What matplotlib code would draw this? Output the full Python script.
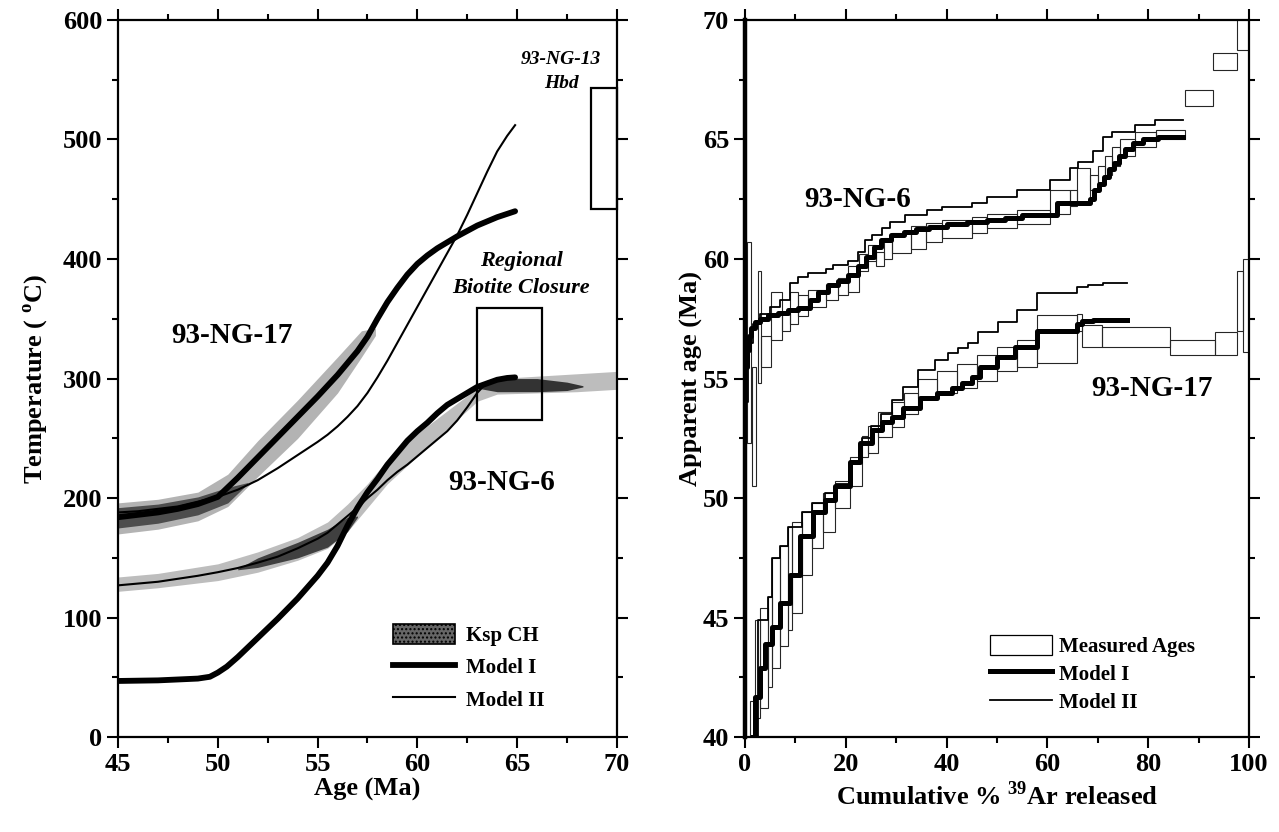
import numpy as np
import matplotlib
matplotlib.use("Agg")
import matplotlib.pyplot as plt
from matplotlib.patches import Patch, Rectangle
from matplotlib.lines import Line2D
from matplotlib.ticker import MultipleLocator

plt.rcParams['font.family'] = ['Liberation Serif', 'DejaVu Serif']
plt.rcParams['font.weight'] = 'bold'
plt.rcParams['mathtext.fontset'] = 'custom'
plt.rcParams['mathtext.rm'] = 'Liberation Serif:bold'
plt.rcParams['mathtext.bf'] = 'Liberation Serif:bold'

# ---- left panel: thermal histories (age Ma, temperature C) ----
ng17_m1_age = [45, 46, 47, 48, 49, 50, 51, 52, 53, 54, 55, 56, 56.5, 57, 57.5, 58, 58.5, 59, 59.5,
               60, 60.5, 61, 62, 63, 64, 64.9]
ng17_m1_T = [184, 186, 188, 191, 195, 201, 217, 234, 251, 268, 285, 303, 313, 323, 335, 350, 364, 376, 387,
             396, 403, 409, 419, 428, 435, 440]
ng17_m2_age = [45, 46, 47, 48, 49, 50, 51, 52, 53, 54, 55, 55.5, 56, 56.5, 57, 57.5, 58, 58.5, 59, 59.5,
               60, 60.5, 61, 61.5, 62, 62.5, 63, 63.5, 64, 64.5, 64.9]
ng17_m2_T = [188, 189, 191, 193, 197, 201, 207, 215, 225, 236, 247, 253, 260, 268, 277, 288, 301, 315, 330,
             345, 360, 375, 390, 405, 420, 437, 455, 473, 490, 503, 512]

ng6_m1_age = [45, 47, 49, 49.6, 50, 50.45, 51, 52, 53, 54, 55, 55.5, 56, 56.5, 57, 57.5, 58, 58.5, 59,
              59.5, 60, 60.5, 61, 61.5, 62, 62.5, 63, 63.5, 64, 64.5, 64.9]
ng6_m1_T = [47, 47.5, 49, 50.5, 54, 59, 67, 83, 99, 116, 135, 146, 160, 177, 192, 205, 216, 228, 238,
            248, 256, 263, 271, 278, 283, 288, 293, 296, 299, 300.5, 301]
ng6_m2_age = [45, 46, 47, 48, 49, 50, 51, 52, 53, 54, 55, 55.5, 56, 56.5, 57, 57.5, 58, 58.5, 59, 59.5,
              60, 60.5, 61, 61.5, 62, 62.5, 63, 63.5]
ng6_m2_T = [127, 128.5, 130, 132.5, 135, 138, 141.5, 146, 151, 158, 166, 171, 178, 185, 192, 200, 207, 215,
            222, 228, 235, 242, 249, 256, 265, 276, 288, 297]

# Ksp CH envelopes
ksp17_age = [45, 47, 49, 50.5, 52, 54, 56, 57.2, 57.9]
ksp17_lo = [170, 174, 181, 193, 218, 250, 288, 318, 336]
ksp17_hi = [196, 199, 205, 220, 248, 282, 318, 340, 342]
ksp17_dark_age = [45, 47, 49, 50.5, 51.5]
ksp17_dark_lo = [175, 179, 186, 196, 212]
ksp17_dark_hi = [192, 195, 201, 209, 213]

ksp6_age = [45, 47, 50, 52, 54, 55.5, 56.5, 57.5, 58.5, 60, 61.5, 63, 64, 66, 68, 70]
ksp6_lo = [122, 125, 131, 138, 148, 158, 172, 192, 212, 235, 258, 281, 287, 288, 289, 291]
ksp6_hi = [134, 137, 145, 155, 167, 180, 195, 212, 232, 254, 273, 292, 300, 302, 304, 306]
ksp6_dark_age = [51, 52, 54, 55.5, 56.5, 57]
ksp6_dark_lo = [140, 142, 150, 159, 172, 184]
ksp6_dark_hi = [141, 150, 163, 174, 184, 185]
ksp6_dark2_age = [63, 64, 66, 67.5, 68.3]
ksp6_dark2_lo = [292, 289, 289, 290, 293]
ksp6_dark2_hi = [294, 300, 300, 297, 294]

biotite_box = [63.0, 66.25, 265, 359]   # age0, age1, T0, T1
hbd_box = [68.7, 70.0, 442, 543]

# ---- right panel: age spectra (cumulative %39Ar, apparent age Ma) ----
ng6_meas_x0 = [0.3, 1.3, 2.5, 3.2, 5.2, 7.3, 9.0, 10.5, 12.5, 16.0, 18.5, 20.4, 22.7, 24.5, 26.0, 27.5,
               29.2, 33.0, 36.0, 39.0, 45.0, 48.0, 54.0, 60.5, 64.5, 65.9, 68.5, 70.0, 71.5, 72.8, 74.5,
               77.4, 81.5, 87.3, 92.9, 97.6]
ng6_meas_x1 = [1.1, 2.2, 3.2, 5.2, 7.3, 9.0, 10.5, 12.5, 16.0, 18.5, 20.4, 22.7, 24.5, 26.0, 27.5, 29.2,
               33.0, 36.0, 39.0, 45.0, 48.0, 54.0, 60.5, 64.5, 65.9, 68.5, 70.0, 71.5, 72.8, 74.5, 77.4,
               81.5, 87.3, 92.9, 97.6, 100.0]
ng6_meas_lo = [52.3, 50.5, 54.8, 55.5, 56.6, 57.0, 57.3, 57.6, 58.0, 58.3, 58.5, 58.6, 59.5, 59.9, 59.7, 60.0,
               60.25, 60.4, 60.7, 60.9, 61.1, 61.3, 61.45, 61.9, 62.2, 62.4, 62.9, 63.2, 63.5, 63.9, 64.3,
               64.7, 65.0, 66.4, 67.9, 68.75]
ng6_meas_hi = [60.7, 55.5, 59.5, 56.8, 58.6, 57.7, 58.6, 58.5, 58.7, 58.9, 59.2, 59.7, 60.2, 60.6, 60.3, 60.9,
               61.1, 61.4, 61.5, 61.63, 61.75, 61.9, 62.05, 62.9, 62.9, 63.8, 63.5, 63.9, 64.3, 64.7, 65.0,
               65.3, 65.4, 67.07, 68.6, 70.5]

ng6_s1_x = [0, 0.3, 0.7, 1.2, 2, 3, 4.5, 6.5, 8.5, 10.5, 12.8, 14.5, 16.5, 18.5, 20.5, 22.5, 24, 25.5, 27,
            29, 31.5, 34, 36.5, 40, 44, 48, 51.5, 55, 62, 68.5, 69.3, 70.3, 71.3, 72.3, 73.3, 74.3, 75.5,
            77, 79, 82, 87]
ng6_s1_age = [55.5, 56.2, 56.8, 57.1, 57.35, 57.5, 57.65, 57.75, 57.85, 57.95, 58.3, 58.6, 58.9, 59.1, 59.35,
              59.7, 60.1, 60.5, 60.8, 61.0, 61.15, 61.25, 61.35, 61.45, 61.55, 61.62, 61.7, 61.85, 62.35,
              62.5, 62.9, 63.15, 63.45, 63.75, 64.0, 64.3, 64.6, 64.85, 65.0, 65.1, 65.1]
ng6_s2_x = [0, 0.5, 1.5, 3, 5, 7, 9, 10.5, 12.5, 16, 17.5, 20.5, 22.5, 23.8, 25.2, 27.2, 28.8, 31.7, 36.1,
            39.1, 45, 48, 53.9, 60.5, 64.5, 66, 69, 71, 72.8, 77.4, 81.3, 87]
ng6_s2_age = [54.0, 56.5, 57.3, 57.7, 58.0, 58.3, 59.0, 59.25, 59.4, 59.6, 59.75, 59.9, 60.3, 60.8, 61.0,
              61.3, 61.55, 61.84, 62.05, 62.18, 62.34, 62.6, 62.9, 63.3, 63.8, 64.06, 64.5, 65.1, 65.3,
              65.6, 65.8, 65.8]

ng17_meas_x0 = [1.0, 2.0, 3.0, 4.5, 5.3, 7.0, 8.5, 9.3, 11.3, 13.3, 15.5, 17.9, 20.8, 23.2, 24.5, 26.4,
                29.2, 31.5, 34.3, 38.0, 42.0, 46.0, 50.0, 54.0, 57.9, 65.9, 66.8, 70.8, 84.4, 93.3, 97.6, 98.9]
ng17_meas_x1 = [2.0, 3.0, 4.5, 5.3, 7.0, 8.5, 9.3, 11.3, 13.3, 15.5, 17.9, 20.8, 23.2, 24.5, 26.4, 29.2,
                31.5, 34.3, 38.0, 42.0, 46.0, 50.0, 54.0, 57.9, 65.9, 66.8, 70.8, 84.4, 93.3, 97.6, 98.9, 100.0]
ng17_meas_lo = [40.0, 40.8, 41.2, 42.1, 42.9, 43.8, 44.5, 45.2, 46.8, 47.9, 48.6, 49.6, 50.5, 51.7, 51.9,
                52.55, 52.97, 53.5, 54.2, 54.4, 54.6, 54.9, 55.3, 55.5, 55.65, 57.0, 56.3, 56.33, 56.0,
                56.0, 57.0, 56.1]
ng17_meas_hi = [41.5, 44.9, 45.4, 45.85, 47.5, 48.0, 48.8, 49.0, 49.4, 49.8, 50.2, 50.7, 51.7, 52.6, 53.0,
                53.6, 54.0, 54.4, 55.0, 55.3, 55.6, 56.0, 56.3, 56.6, 57.65, 57.7, 57.24, 57.17, 56.6,
                56.96, 59.5, 60.0]

ng17_s1_x = [1.5, 2.0, 3.0, 4.0, 5.3, 7.0, 8.9, 10.9, 13.5, 15.9, 17.9, 20.8, 22.8, 25.2, 27.2, 29.2, 31.4,
             34.7, 38.1, 41.1, 43.1, 45, 46.6, 50, 53.6, 57.9, 65.9, 66.8, 69, 75.8]
ng17_s1_age = [40.0, 41.7, 42.9, 43.9, 44.6, 45.6, 46.8, 48.4, 49.4, 49.9, 50.5, 51.5, 52.3, 52.85, 53.2,
               53.4, 53.76, 54.2, 54.4, 54.6, 54.8, 55.06, 55.5, 55.9, 56.3, 57.0, 57.3, 57.4, 57.45, 57.45]
ng17_s2_x = [0.8, 2.6, 4.5, 5.3, 7.0, 8.5, 11.3, 13.3, 15.9, 18, 20.8, 23.2, 25, 27, 29.2, 31.4, 34.3,
             37.7, 40.3, 42.3, 44.2, 46.2, 50.2, 54.0, 57.9, 65.9, 68, 71, 75.8]
ng17_s2_age = [40.0, 44.9, 45.85, 47.5, 48.0, 48.8, 49.4, 49.8, 50.2, 50.6, 51.5, 52.5, 53.0, 53.5, 54.1,
               54.65, 55.36, 55.77, 56.06, 56.28, 56.5, 56.95, 57.36, 57.86, 58.57, 58.85, 58.93, 58.98, 59.0]

TICK_FS = 19
LABEL_FS = 19


def style_axes(ax):
    for side in ['top', 'bottom', 'left', 'right']:
        ax.spines[side].set_linewidth(1.6)
    ax.tick_params(which='both', direction='out', top=True, right=True, width=1.5,
                   labelsize=TICK_FS)
    ax.tick_params(which='major', length=8)
    ax.tick_params(which='minor', length=4)
    for lab in ax.get_xticklabels() + ax.get_yticklabels():
        lab.set_fontweight('bold')


fig = plt.figure(figsize=(12.79, 8.32), dpi=100)
ax1 = fig.add_axes([0.0923, 0.114, 0.390, 0.862])
ax2 = fig.add_axes([0.5825, 0.114, 0.394, 0.862])

# ---------- left panel ----------
ax1.fill_between(ksp17_age, ksp17_lo, ksp17_hi, color='0.7', lw=0)
ax1.fill_between(ksp17_dark_age, ksp17_dark_lo, ksp17_dark_hi, color='0.3', lw=0)
ax1.fill_between(ksp6_age, ksp6_lo, ksp6_hi, color='0.74', lw=0)
ax1.fill_between(ksp6_dark_age, ksp6_dark_lo, ksp6_dark_hi, color='0.25', lw=0)
ax1.fill_between(ksp6_dark2_age, ksp6_dark2_lo, ksp6_dark2_hi, color='0.2', lw=0)

ax1.plot(ng17_m1_age, ng17_m1_T, color='black', lw=4.2, solid_capstyle='round', solid_joinstyle='round')
ax1.plot(ng17_m2_age, ng17_m2_T, color='black', lw=1.5)
ax1.plot(ng6_m1_age, ng6_m1_T, color='black', lw=4.2, solid_capstyle='round', solid_joinstyle='round')
ax1.plot(ng6_m2_age, ng6_m2_T, color='black', lw=1.5)

for box in [biotite_box, hbd_box]:
    ax1.add_patch(Rectangle((box[0], box[2]), box[1] - box[0], box[3] - box[2],
                            fill=False, edgecolor='black', lw=1.6, clip_on=False))

ax1.text(50.7, 336, '93-NG-17', fontsize=21, fontweight='bold', ha='center', va='center')
ax1.text(64.2, 213, '93-NG-6', fontsize=21, fontweight='bold', ha='center', va='center')
ax1.text(65.2, 387, 'Regional\nBiotite Closure', fontsize=16, fontweight='bold', style='italic',
         ha='center', va='center', linespacing=1.45)
ax1.text(67.2, 557, '93-NG-13\nHbd', fontsize=14, fontweight='bold', style='italic',
         ha='center', va='center', linespacing=1.5)

ax1.set_xlim(45, 70)
ax1.set_ylim(0, 600)
ax1.xaxis.set_major_locator(MultipleLocator(5))
ax1.xaxis.set_minor_locator(MultipleLocator(2.5))
ax1.yaxis.set_major_locator(MultipleLocator(100))
ax1.yaxis.set_minor_locator(MultipleLocator(50))
ax1.set_xlabel('Age (Ma)', fontsize=LABEL_FS, fontweight='bold', labelpad=1)
ax1.set_ylabel(r'Temperature ( $^{\mathbf{o}}$C)', fontsize=LABEL_FS, fontweight='bold', labelpad=9)
style_axes(ax1)

h1 = [Patch(facecolor='0.4', edgecolor='black', hatch='....', lw=1.2),
      Line2D([], [], color='black', lw=4.2),
      Line2D([], [], color='black', lw=1.5)]
ax1.legend(h1, ['Ksp CH', 'Model I', 'Model II'], loc='upper left', bbox_to_anchor=(0.551, 0.158),
           frameon=False, fontsize=15, handlelength=3.0, handleheight=1.1, handletextpad=0.5,
           labelspacing=0.5, borderpad=0, borderaxespad=0)

# ---------- right panel ----------
for x0, x1, lo, hi in [(ng6_meas_x0, ng6_meas_x1, ng6_meas_lo, ng6_meas_hi),
                       (ng17_meas_x0, ng17_meas_x1, ng17_meas_lo, ng17_meas_hi)]:
    ax2.bar(x0, np.subtract(hi, lo), width=np.subtract(x1, x0), bottom=lo, align='edge',
            fill=False, edgecolor='0.15', lw=0.8)

ax2.step(ng6_s1_x, ng6_s1_age, where='post', color='black', lw=3.6)
ax2.step(ng6_s2_x, ng6_s2_age, where='post', color='black', lw=1.3)
ax2.step(ng17_s1_x, ng17_s1_age, where='post', color='black', lw=3.6)
ax2.step(ng17_s2_x, ng17_s2_age, where='post', color='black', lw=1.3)

ax2.text(22.4, 62.5, '93-NG-6', fontsize=21, fontweight='bold', ha='center', va='center')
ax2.text(80.8, 54.6, '93-NG-17', fontsize=21, fontweight='bold', ha='center', va='center')

ax2.set_xlim(0, 100)
ax2.set_ylim(40, 70)
ax2.xaxis.set_major_locator(MultipleLocator(20))
ax2.xaxis.set_minor_locator(MultipleLocator(10))
ax2.yaxis.set_major_locator(MultipleLocator(5))
ax2.yaxis.set_minor_locator(MultipleLocator(2.5))
ax2.set_xlabel(r'Cumulative % $^{\mathbf{39}}$Ar released', fontsize=LABEL_FS, fontweight='bold',
               labelpad=4)
ax2.set_ylabel('Apparent age (Ma)', fontsize=LABEL_FS, fontweight='bold', labelpad=0)
style_axes(ax2)
ax2.spines['left'].set_linewidth(3.2)

h2 = [Patch(facecolor='white', edgecolor='black', lw=0.9),
      Line2D([], [], color='black', lw=3.6),
      Line2D([], [], color='black', lw=1.3)]
ax2.legend(h2, ['Measured Ages', 'Model I', 'Model II'], loc='upper left', bbox_to_anchor=(0.486, 0.143),
           frameon=False, fontsize=15, handlelength=3.0, handleheight=1.1, handletextpad=0.3,
           labelspacing=0.3, borderpad=0, borderaxespad=0)

fig.savefig('out.png', dpi=100)
